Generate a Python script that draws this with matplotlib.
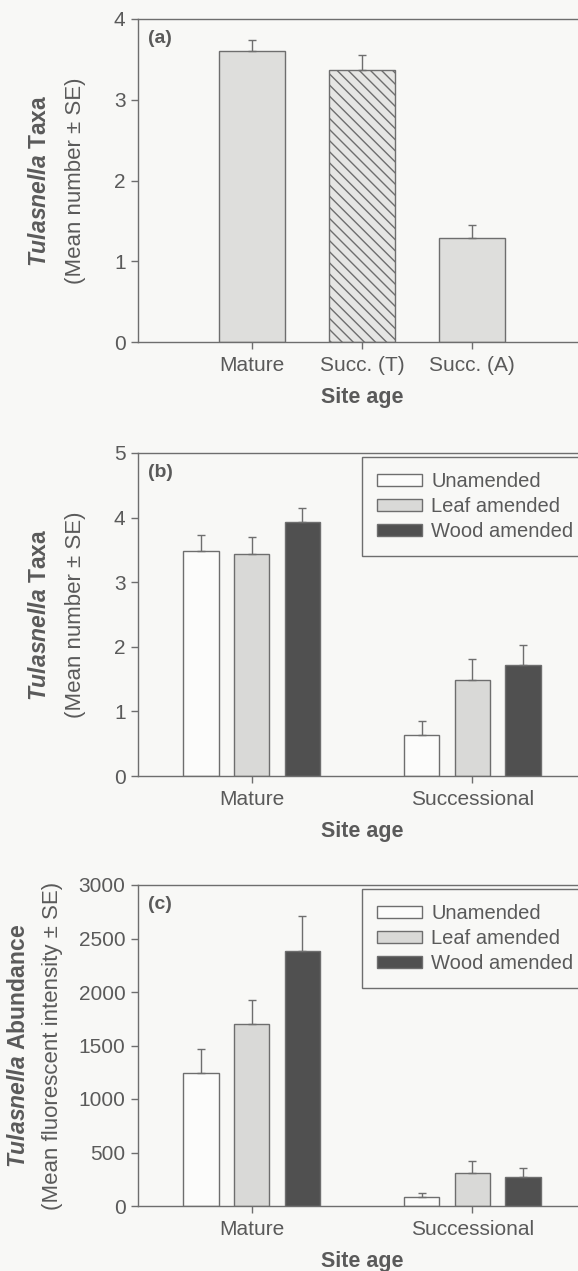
import numpy as np
import matplotlib.pyplot as plt

plt.rcParams['font.family'] = ['Liberation Sans', 'DejaVu Sans']
plt.rcParams['mathtext.fontset'] = 'custom'
plt.rcParams['mathtext.bfit'] = 'Liberation Sans:italic:bold'
plt.rcParams['mathtext.it'] = 'Liberation Sans:italic'
plt.rcParams['hatch.linewidth'] = 1.0

# ── Data ──────────────────────────────────────────────────────────────────────
sites_a = ['Mature', 'Succ. (T)', 'Succ. (A)']
taxa_a = [3.60, 3.37, 1.29]
taxa_a_se = [0.14, 0.18, 0.16]

sites_bc = ['Mature', 'Successional']
treatments = ['Unamended', 'Leaf amended', 'Wood amended']

taxa_b = {'Unamended': [3.48, 0.64],
          'Leaf amended': [3.43, 1.49],
          'Wood amended': [3.93, 1.72]}
taxa_b_se = {'Unamended': [0.25, 0.21],
             'Leaf amended': [0.27, 0.32],
             'Wood amended': [0.22, 0.31]}

abund_c = {'Unamended': [1244, 84],
           'Leaf amended': [1704, 311],
           'Wood amended': [2385, 274]}
abund_c_se = {'Unamended': [227, 34],
              'Leaf amended': [224, 109],
              'Wood amended': [326, 80]}

# ── Style ─────────────────────────────────────────────────────────────────────
INK = '#5a5a5a'
EDGE = '#6e6e6e'
BG = '#f8f8f6'
FILLS = {'Unamended': '#fcfcfb', 'Leaf amended': '#d9d9d7', 'Wood amended': '#505050'}

W, H = 578, 1271
fig = plt.figure(figsize=(W / 100, H / 100), dpi=100, facecolor=BG)


def make_axes(top_px, bot_px):
    left, right = 138, 586
    return fig.add_axes([left / W, 1 - bot_px / H, (right - left) / W, (bot_px - top_px) / H])


def style_axes(ax, ylim, yticks):
    ax.set_facecolor('none')
    for s in ax.spines.values():
        s.set_color(EDGE)
        s.set_linewidth(1.0)
    ax.set_ylim(*ylim)
    ax.set_yticks(yticks)
    ax.tick_params(axis='both', direction='out', length=5, width=1, color=EDGE,
                   labelcolor=INK, labelsize=15)
    ax.tick_params(axis='y', pad=4)
    ax.tick_params(axis='x', pad=5)
    ax.text(0.5, -56 / 323, 'Site age', transform=ax.transAxes, ha='center', va='center',
            fontsize=15.5, fontweight='bold', color=INK)


def ylabel(ax, x1, x2, line1, line2):
    pos = ax.get_position()
    yc = (pos.y0 + pos.y1) / 2
    fig.text(x1 / W, yc, line1, rotation=90, ha='center', va='center',
             fontsize=16.5, fontweight='bold', color=INK)
    fig.text(x2 / W, yc, line2, rotation=90, ha='center', va='center',
             fontsize=16, color=INK)


def panel_label(ax, s):
    ax.text(0.023, 0.94, s, transform=ax.transAxes, ha='left', va='center',
            fontsize=14, fontweight='bold', color=INK)


# ── Panel (a) ─────────────────────────────────────────────────────────────────
ax = make_axes(19, 342)
x = np.arange(len(sites_a))
bars = ax.bar(x, taxa_a, width=0.6, color=['#dededc', '#e6e6e4', '#dededc'],
              edgecolor=EDGE, linewidth=1.0)
bars[1].set_hatch('\\\\\\')
ax.errorbar(x, taxa_a, yerr=[np.zeros(3), taxa_a_se], fmt='none',
            ecolor=EDGE, elinewidth=1, capsize=3, capthick=1)
ax.set_xlim(-1.04, 3.04)
ax.set_xticks(x)
ax.set_xticklabels(sites_a)
style_axes(ax, (0, 4), [0, 1, 2, 3, 4])
panel_label(ax, '(a)')
ylabel(ax, 40, 76, r'$\mathbfit{Tulasnella}$ Taxa', '(Mean number ± SE)')


# ── Panels (b) and (c) ────────────────────────────────────────────────────────
def grouped(ax, data, se):
    xg = np.arange(len(sites_bc))
    offsets = [-0.23, 0.0, 0.23]
    for off, t in zip(offsets, treatments):
        ax.bar(xg + off, data[t], width=0.16, color=FILLS[t], edgecolor=EDGE,
               linewidth=1.0, label=t)
        ax.errorbar(xg + off, data[t], yerr=[np.zeros(len(xg)), se[t]], fmt='none',
                    ecolor=EDGE, elinewidth=1, capsize=3, capthick=1)
    ax.set_xlim(-0.516, 1.516)
    ax.set_xticks(xg)
    ax.set_xticklabels(sites_bc)
    leg = ax.legend(loc='upper left', bbox_to_anchor=(0.5, 0.0, 0.56, 0.9876),
                    mode='expand', borderaxespad=0, fontsize=14.5, handlelength=2.25,
                    handleheight=0.5, labelspacing=0.3, handletextpad=0.45,
                    borderpad=0.75, fancybox=False, framealpha=1, facecolor=BG,
                    edgecolor=EDGE)
    leg.get_frame().set_linewidth(1.0)
    for txt in leg.get_texts():
        txt.set_color(INK)


ax = make_axes(453, 776)
grouped(ax, taxa_b, taxa_b_se)
style_axes(ax, (0, 5), [0, 1, 2, 3, 4, 5])
panel_label(ax, '(b)')
ylabel(ax, 40, 76, r'$\mathbfit{Tulasnella}$ Taxa', '(Mean number ± SE)')

ax = make_axes(885, 1206)
grouped(ax, abund_c, abund_c_se)
style_axes(ax, (0, 3000), [0, 500, 1000, 1500, 2000, 2500, 3000])
panel_label(ax, '(c)')
ylabel(ax, 19, 53, r'$\mathbfit{Tulasnella}$ Abundance', '(Mean fluorescent intensity ± SE)')

fig.savefig('out.png', dpi=100, facecolor=BG)
